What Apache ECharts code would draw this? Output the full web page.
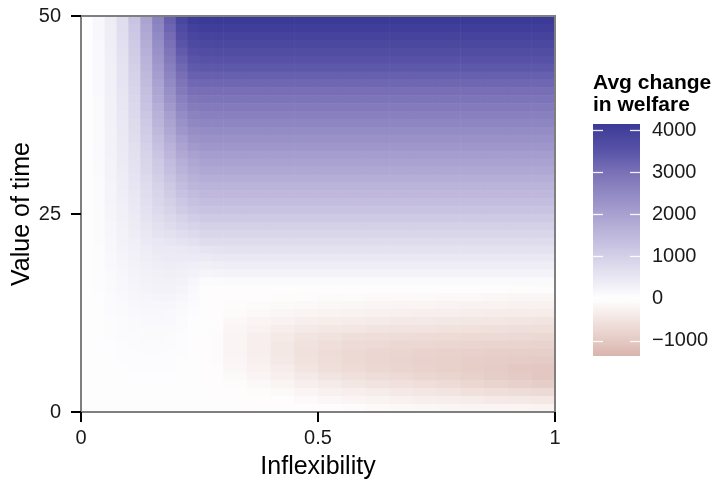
<!DOCTYPE html>
<html>
<head>
<meta charset="utf-8">
<script src="https://cdn.jsdelivr.net/npm/echarts@6/dist/echarts.min.js"></script>
<style>
html, body { margin: 0; background: #fff; }
#chart { width: 715px; height: 481px; }
</style>
</head>
<body>
<div id="chart"></div>
<script>
// cell edges along inflexibility (finer where the colour changes fast)
var inflexibilityEdges = [0, 0.025, 0.05, 0.075, 0.1, 0.125, 0.15, 0.175, 0.2, 0.225, 0.25, 0.275, 0.3,
                          0.35, 0.4, 0.45, 0.5, 0.55, 0.6, 0.65, 0.7, 0.75, 0.8, 0.85, 0.9, 0.95, 1];
// row centres along value of time, top to bottom (rows are 1 unit high)
var valueOfTime = [49.5, 48.5, 47.5, 46.5, 45.5, 44.5, 43.5, 42.5, 41.5, 40.5, 39.5, 38.5, 37.5, 36.5, 35.5,
                   34.5, 33.5, 32.5, 31.5, 30.5, 29.5, 28.5, 27.5, 26.5, 25.5, 24.5, 23.5, 22.5, 21.5, 20.5,
                   19.5, 18.5, 17.5, 16.5, 15.5, 14.5, 13.5, 12.5, 11.5, 10.5, 9.5, 8.5, 7.5, 6.5, 5.5,
                   4.5, 3.5, 2.5, 1.5, 0.5];

// avg change in welfare, one row per value of time, one column per inflexibility cell
var welfare = [
  [30, 160, 380, 730, 1250, 1950, 2650, 3300, 3850, 4100, 4150, 4150, 4150, 4150, 4150, 4150, 4150, 4150, 4150, 4150, 4150, 4150, 4150, 4150, 4150, 4150],
  [29, 157, 372, 710, 1210, 1880, 2570, 3200, 3730, 3980, 4050, 4050, 4050, 4050, 4050, 4050, 4050, 4050, 4050, 4050, 4050, 4050, 4050, 4050, 4050, 4050],
  [28, 153, 363, 690, 1165, 1815, 2490, 3100, 3620, 3860, 3930, 3930, 3930, 3930, 3930, 3930, 3930, 3930, 3930, 3930, 3930, 3930, 3930, 3930, 3930, 3930],
  [27, 150, 355, 665, 1125, 1750, 2400, 3000, 3500, 3750, 3800, 3800, 3800, 3800, 3800, 3800, 3800, 3800, 3800, 3800, 3800, 3800, 3800, 3800, 3800, 3800],
  [26, 147, 347, 645, 1085, 1680, 2320, 2900, 3380, 3630, 3680, 3680, 3680, 3680, 3680, 3680, 3680, 3680, 3680, 3680, 3680, 3680, 3680, 3680, 3680, 3680],
  [26, 143, 338, 620, 1040, 1615, 2235, 2800, 3265, 3515, 3560, 3560, 3560, 3560, 3560, 3560, 3560, 3560, 3560, 3560, 3560, 3560, 3560, 3560, 3560, 3560],
  [25, 140, 330, 600, 1000, 1550, 2150, 2700, 3150, 3400, 3430, 3430, 3430, 3430, 3430, 3430, 3430, 3430, 3430, 3430, 3430, 3430, 3430, 3430, 3430, 3430],
  [25, 138, 323, 583, 967, 1492, 2067, 2592, 3033, 3275, 3300, 3300, 3300, 3300, 3300, 3300, 3300, 3300, 3300, 3300, 3300, 3300, 3300, 3300, 3300, 3300],
  [24, 135, 317, 567, 933, 1433, 1983, 2483, 2917, 3150, 3170, 3170, 3170, 3170, 3170, 3170, 3170, 3170, 3170, 3170, 3170, 3170, 3170, 3170, 3170, 3170],
  [24, 133, 310, 550, 900, 1375, 1900, 2375, 2800, 3025, 3050, 3050, 3050, 3050, 3050, 3050, 3050, 3050, 3050, 3050, 3050, 3050, 3050, 3050, 3050, 3050],
  [23, 130, 303, 533, 867, 1317, 1817, 2267, 2683, 2900, 2930, 2930, 2930, 2930, 2930, 2930, 2930, 2930, 2930, 2930, 2930, 2930, 2930, 2930, 2930, 2930],
  [23, 128, 297, 517, 833, 1258, 1733, 2158, 2567, 2775, 2810, 2810, 2810, 2810, 2810, 2810, 2810, 2810, 2810, 2810, 2810, 2810, 2810, 2810, 2810, 2810],
  [22, 125, 290, 500, 800, 1200, 1650, 2050, 2450, 2650, 2690, 2690, 2690, 2690, 2690, 2690, 2690, 2690, 2690, 2690, 2690, 2690, 2690, 2690, 2690, 2690],
  [22, 123, 283, 487, 770, 1147, 1567, 1945, 2325, 2522, 2570, 2570, 2570, 2570, 2570, 2570, 2570, 2570, 2570, 2570, 2570, 2570, 2570, 2570, 2570, 2570],
  [21, 120, 277, 473, 740, 1093, 1483, 1840, 2200, 2393, 2450, 2450, 2450, 2450, 2450, 2450, 2450, 2450, 2450, 2450, 2450, 2450, 2450, 2450, 2450, 2450],
  [21, 118, 270, 460, 710, 1040, 1400, 1735, 2075, 2265, 2330, 2330, 2330, 2330, 2330, 2330, 2330, 2330, 2330, 2330, 2330, 2330, 2330, 2330, 2330, 2330],
  [21, 115, 263, 447, 680, 987, 1317, 1630, 1950, 2137, 2210, 2210, 2210, 2210, 2210, 2210, 2210, 2210, 2210, 2210, 2210, 2210, 2210, 2210, 2210, 2210],
  [20, 113, 257, 433, 650, 933, 1233, 1525, 1825, 2008, 2090, 2090, 2090, 2090, 2090, 2090, 2090, 2090, 2090, 2090, 2090, 2090, 2090, 2090, 2090, 2090],
  [20, 110, 250, 420, 620, 880, 1150, 1420, 1700, 1880, 1970, 1970, 1970, 1970, 1970, 1970, 1970, 1970, 1970, 1970, 1970, 1970, 1970, 1970, 1970, 1970],
  [19, 108, 243, 405, 593, 837, 1088, 1337, 1597, 1767, 1850, 1850, 1850, 1850, 1850, 1850, 1850, 1850, 1850, 1850, 1850, 1850, 1850, 1850, 1850, 1850],
  [18, 105, 237, 390, 567, 793, 1027, 1253, 1493, 1653, 1730, 1730, 1730, 1730, 1730, 1730, 1730, 1730, 1730, 1730, 1730, 1730, 1730, 1730, 1730, 1730],
  [18, 103, 230, 375, 540, 750, 965, 1170, 1390, 1540, 1610, 1610, 1610, 1610, 1610, 1610, 1610, 1610, 1610, 1610, 1610, 1610, 1610, 1610, 1610, 1610],
  [17, 100, 223, 360, 513, 707, 903, 1087, 1287, 1427, 1500, 1500, 1500, 1500, 1500, 1500, 1500, 1500, 1500, 1500, 1500, 1500, 1500, 1500, 1500, 1500],
  [16, 98, 217, 345, 487, 663, 842, 1003, 1183, 1313, 1390, 1390, 1390, 1390, 1390, 1390, 1390, 1390, 1390, 1390, 1390, 1390, 1390, 1390, 1390, 1390],
  [15, 95, 210, 330, 460, 620, 780, 920, 1080, 1200, 1270, 1270, 1270, 1270, 1270, 1270, 1270, 1270, 1270, 1270, 1270, 1270, 1270, 1270, 1270, 1270],
  [15, 92, 200, 312, 432, 574, 712, 828, 958, 1060, 1140, 1140, 1140, 1140, 1140, 1140, 1140, 1140, 1140, 1140, 1140, 1140, 1140, 1140, 1140, 1140],
  [15, 89, 190, 294, 404, 528, 644, 736, 836, 920, 1010, 1010, 1010, 1010, 1010, 1010, 1010, 1010, 1010, 1010, 1010, 1010, 1010, 1010, 1010, 1010],
  [15, 86, 180, 276, 376, 482, 576, 644, 714, 780, 870, 870, 870, 870, 870, 870, 870, 870, 870, 870, 870, 870, 870, 870, 870, 870],
  [15, 83, 170, 258, 348, 436, 508, 552, 592, 640, 740, 740, 740, 740, 740, 740, 740, 740, 740, 740, 740, 740, 740, 740, 740, 740],
  [15, 80, 160, 240, 320, 390, 440, 460, 470, 500, 560, 600, 610, 610, 610, 610, 610, 610, 610, 610, 610, 610, 610, 610, 610, 610],
  [14, 75, 150, 222, 295, 357, 402, 420, 420, 420, 430, 470, 490, 490, 490, 490, 490, 490, 490, 490, 490, 490, 490, 490, 490, 490],
  [14, 70, 140, 205, 270, 325, 365, 380, 370, 340, 320, 350, 370, 370, 370, 370, 370, 370, 370, 370, 370, 370, 370, 370, 370, 370],
  [13, 65, 130, 188, 245, 292, 328, 340, 320, 260, 200, 220, 240, 240, 240, 240, 240, 240, 240, 240, 240, 240, 240, 240, 240, 240],
  [12, 60, 120, 170, 220, 260, 290, 300, 270, 180, 100, 90, 110, 110, 110, 110, 110, 110, 110, 110, 110, 110, 110, 110, 110, 110],
  [11, 56, 111, 156, 200, 234, 257, 263, 230, 150, 40, 5, -10, -15, -20, -25, -30, -35, -40, -45, -50, -55, -60, -65, -70, -75],
  [10, 53, 102, 142, 180, 208, 225, 225, 190, 120, 30, -20, -50, -60, -70, -80, -85, -90, -100, -105, -110, -120, -130, -140, -150, -160],
  [9, 49, 94, 129, 160, 181, 192, 188, 150, 90, 20, -30, -70, -90, -110, -130, -145, -160, -175, -190, -205, -215, -230, -240, -250, -260],
  [8, 45, 85, 115, 140, 155, 160, 150, 110, 60, 15, -40, -95, -130, -165, -200, -225, -245, -265, -280, -295, -310, -325, -335, -345, -360],
  [7, 41, 78, 105, 128, 140, 144, 135, 99, 53, 5, -55, -130, -185, -240, -290, -325, -355, -380, -400, -415, -430, -445, -460, -475, -490],
  [7, 38, 70, 95, 115, 125, 128, 120, 88, 45, 0, -65, -165, -245, -320, -385, -430, -465, -490, -510, -525, -540, -555, -570, -585, -600],
  [6, 34, 63, 85, 103, 110, 111, 105, 76, 38, -5, -75, -190, -295, -395, -485, -545, -590, -620, -640, -655, -670, -685, -700, -712, -725],
  [5, 30, 55, 75, 90, 95, 95, 90, 65, 30, -10, -80, -200, -315, -430, -535, -610, -660, -695, -720, -740, -760, -775, -790, -805, -815],
  [5, 27, 50, 67, 80, 84, 84, 80, 56, 25, -15, -80, -190, -305, -425, -555, -640, -705, -750, -785, -810, -830, -850, -870, -885, -900],
  [4, 24, 44, 59, 70, 74, 74, 70, 47, 20, -15, -75, -170, -280, -405, -540, -630, -705, -760, -800, -830, -860, -885, -910, -935, -960],
  [4, 21, 39, 51, 60, 63, 63, 59, 40, 15, -15, -65, -145, -240, -355, -485, -585, -665, -725, -775, -820, -865, -905, -945, -990, -1040],
  [3, 18, 33, 43, 50, 53, 53, 49, 31, 10, -15, -55, -115, -185, -280, -395, -490, -570, -640, -695, -750, -805, -860, -910, -960, -1030],
  [3, 15, 28, 35, 40, 42, 42, 38, 22, 5, -10, -40, -80, -120, -200, -290, -375, -450, -510, -560, -615, -675, -735, -795, -850, -910],
  [2, 12, 23, 28, 32, 34, 34, 31, 17, 4, -5, -25, -45, -70, -115, -185, -250, -315, -365, -410, -455, -505, -555, -605, -650, -700],
  [2, 8, 15, 19, 21, 22, 22, 20, 11, 3, -2, -12, -20, -35, -65, -105, -145, -185, -220, -255, -290, -325, -355, -385, -410, -440],
  [1, 4, 7, 9, 10, 10, 10, 9, 5, 2, 0, -3, -5, -10, -20, -40, -60, -80, -100, -120, -140, -160, -175, -190, -205, -220]
];

var legendTicks = [-1000, 0, 1000, 2000, 3000, 4000];

var ROW_H = 1;
var VM_MIN = -1360, VM_MAX = 4150;
var FONT = 'Liberation Sans, Arial, sans-serif';

// colour anchors of the diverging scale
var anchors = [
  [-1360, '#d9b4ad'], [-1000, '#e4c9c3'], [-500, '#f2e4e1'], [0, '#ffffff'],
  [500, '#e9e7f3'], [1000, '#d4d0e8'], [2000, '#a9a1d0'], [3000, '#7a71b7'],
  [3500, '#5a54a8'], [4150, '#3b3a97']
];

function hexToRgb(h) {
  return [parseInt(h.substr(1, 2), 16), parseInt(h.substr(3, 2), 16), parseInt(h.substr(5, 2), 16)];
}

function colorAt(v) {
  for (var i = 1; i < anchors.length; i++) {
    if (v <= anchors[i][0] || i == anchors.length - 1) {
      var a = anchors[i - 1], b = anchors[i];
      var t = Math.max(0, Math.min(1, (v - a[0]) / (b[0] - a[0])));
      var ca = hexToRgb(a[1]), cb = hexToRgb(b[1]);
      return 'rgb(' + Math.round(ca[0] + (cb[0] - ca[0]) * t) + ',' +
        Math.round(ca[1] + (cb[1] - ca[1]) * t) + ',' +
        Math.round(ca[2] + (cb[2] - ca[2]) * t) + ')';
    }
  }
}

// evenly spaced ramp for the visualMap
var N = 56;
var ramp = [];
for (var k = 0; k < N; k++) {
  ramp.push(colorAt(VM_MIN + (VM_MAX - VM_MIN) * k / (N - 1)));
}

var nCols = inflexibilityEdges.length - 1;
var cells = [];
valueOfTime.forEach(function (y, i) {
  for (var j = 0; j < nCols; j++) {
    cells.push([(inflexibilityEdges[j] + inflexibilityEdges[j + 1]) / 2, y, welfare[i][j]]);
  }
});

function renderCell(params, api) {
  var col = params.dataIndex % nCols;
  var y = api.value(1);
  var p0 = api.coord([inflexibilityEdges[col], y + ROW_H / 2]);
  var p1 = api.coord([inflexibilityEdges[col + 1], y - ROW_H / 2]);
  return {
    type: 'rect',
    shape: { x: p0[0], y: p0[1], width: p1[0] - p0[0] + 0.6, height: p1[1] - p0[1] + 0.6 },
    style: { fill: api.visual('color') }
  };
}

function renderLegendBar(params, api) {
  var p0 = api.coord([0, api.value(2)]);
  var p1 = api.coord([1, api.value(1)]);
  var stops = [];
  for (var k = 0; k < N; k++) {
    var v = VM_MAX - (VM_MAX - VM_MIN) * k / (N - 1);
    stops.push({ offset: k / (N - 1), color: colorAt(v) });
  }
  return {
    type: 'rect',
    shape: { x: p0[0], y: p0[1], width: p1[0] - p0[0], height: p1[1] - p0[1] },
    style: { fill: new echarts.graphic.LinearGradient(0, 0, 0, 1, stops) }
  };
}

function borderLine() {
  return { show: true, onZero: false, lineStyle: { color: '#7f7f7f', width: 2 } };
}
function blackTick() {
  return { show: true, length: 10, lineStyle: { color: '#000', width: 2 } };
}
function whiteTick(inside) {
  return { show: true, inside: inside, length: 10, customValues: legendTicks,
    lineStyle: { color: '#ffffff', width: 1.3, opacity: 0.9 } };
}
var tickLabel = { fontSize: 20, color: '#1a1a1a', fontFamily: FONT };

var chart = echarts.init(document.getElementById('chart'));
chart.setOption({
  animation: false,
  backgroundColor: '#fff',
  title: {
    text: 'Avg change\nin welfare',
    left: 593, top: 72, padding: 0,
    textStyle: { fontSize: 21, fontWeight: 'bold', lineHeight: 22, color: '#000', fontFamily: FONT }
  },
  grid: [
    { left: 81, top: 16, width: 474, height: 396, outerBoundsMode: 'none' },
    { left: 593, top: 124, width: 47, height: 232, outerBoundsMode: 'none' }
  ],
  visualMap: {
    type: 'continuous', show: false, seriesIndex: 0, dimension: 2,
    min: VM_MIN, max: VM_MAX, inRange: { color: ramp }
  },
  xAxis: [
    {
      type: 'value', gridIndex: 0, min: 0, max: 1, interval: 0.5, position: 'bottom', z: 10,
      axisLine: borderLine(), axisTick: blackTick(),
      axisLabel: Object.assign({ margin: 16 }, tickLabel),
      splitLine: { show: false },
      name: 'Inflexibility', nameLocation: 'middle', nameGap: 43, nameMoveOverlap: false,
      nameTextStyle: { fontSize: 25, color: '#000', fontFamily: FONT }
    },
    {
      type: 'value', gridIndex: 0, min: 0, max: 1, position: 'top', z: 10,
      axisLine: borderLine(), axisTick: { show: false }, axisLabel: { show: false }, splitLine: { show: false }
    },
    { type: 'value', gridIndex: 1, min: 0, max: 1, show: false }
  ],
  yAxis: [
    {
      type: 'value', gridIndex: 0, min: 0, max: 50, interval: 25, position: 'left', z: 10,
      axisLine: borderLine(), axisTick: blackTick(),
      axisLabel: Object.assign({ margin: 20 }, tickLabel),
      splitLine: { show: false },
      name: 'Value of time', nameLocation: 'middle', nameGap: 46, nameMoveOverlap: false,
      nameTextStyle: { fontSize: 25, color: '#000', fontFamily: FONT }
    },
    {
      type: 'value', gridIndex: 0, min: 0, max: 50, position: 'right', z: 10,
      axisLine: borderLine(), axisTick: { show: false }, axisLabel: { show: false }, splitLine: { show: false }
    },
    {
      // legend labels
      type: 'value', gridIndex: 1, min: VM_MIN, max: VM_MAX, position: 'right', z: 10,
      axisLine: { show: false }, axisTick: { show: false }, splitLine: { show: false },
      axisLabel: Object.assign({
        margin: 12, customValues: legendTicks,
        formatter: function (v) { return v < 0 ? '\u2212' + Math.abs(v) : String(v); }
      }, tickLabel)
    },
    {
      // white ticks, left edge of the bar
      type: 'value', gridIndex: 1, min: VM_MIN, max: VM_MAX, position: 'left', z: 10,
      axisLine: { show: false }, axisTick: whiteTick(true), axisLabel: { show: false }, splitLine: { show: false }
    },
    {
      // white ticks, right edge of the bar
      type: 'value', gridIndex: 1, min: VM_MIN, max: VM_MAX, position: 'left', offset: -47, z: 10,
      axisLine: { show: false }, axisTick: whiteTick(false), axisLabel: { show: false }, splitLine: { show: false }
    }
  ],
  series: [
    {
      type: 'custom', xAxisIndex: 0, yAxisIndex: 0, data: cells,
      encode: { x: 0, y: 1 }, renderItem: renderCell, clip: true, silent: true
    },
    {
      type: 'custom', xAxisIndex: 2, yAxisIndex: 2, data: [[0, VM_MIN, VM_MAX]],
      encode: { x: 0, y: [1, 2] }, renderItem: renderLegendBar, silent: true
    }
  ]
});
</script>
</body>
</html>
